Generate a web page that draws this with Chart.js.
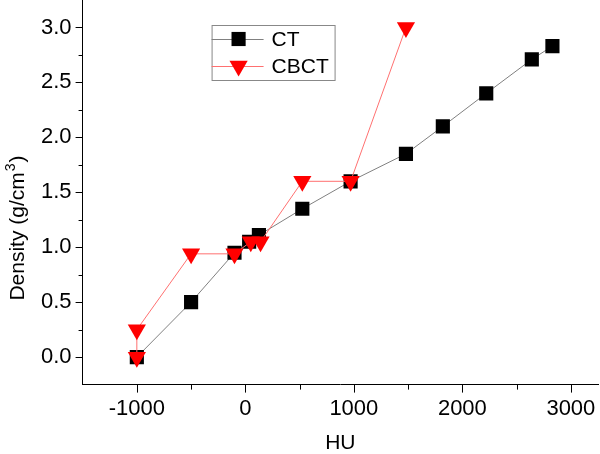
<!DOCTYPE html>
<html>
<head>
<meta charset="utf-8">
<script src="https://cdn.jsdelivr.net/npm/chart.js@4/dist/chart.umd.min.js"></script>
<style>
  html, body { margin: 0; padding: 0; background: #fff; }
  #wrap { width: 600px; height: 454px; }
</style>
</head>
<body>
<div id="wrap"><canvas id="density-chart"></canvas></div>
<script>
// values (HU vs density)
const ctHU = [-1000, -500, -100, 35, 125, 525, 970, 1480, 1820, 2220, 2640, 2830]
const ctDensity = [0, 0.5, 0.95, 1.05, 1.11, 1.35, 1.6, 1.85, 2.1, 2.4, 2.71, 2.83]
const cbctHU = [-1000, -1000, -500, -100, 50, 140, 525, 970, 1480]
const cbctDensity = [0, 0.25, 0.94, 0.94, 1.05, 1.05, 1.6, 1.6, 3.0]

const xTicks = [-1000, 0, 1000, 2000, 3000]
const xMinorTicks = [-500, 500, 1500, 2500]
const yTicks = [0, 0.5, 1, 1.5, 2, 2.5, 3]
const yMinorTicks = [0.25, 0.75, 1.25, 1.75, 2.25, 2.75]

const FONT = '"Liberation Sans", Arial, sans-serif'
const toPoints = (xs, ys) => xs.map((x, i) => ({ x: x, y: ys[i] }))

const ctSet = {
  label: 'CT',
  data: toPoints(ctHU, ctDensity),
  showLine: true,
  borderColor: '#808080',
  borderWidth: 1,
  pointStyle: 'rect',
  pointRadius: 10,
  pointBackgroundColor: '#000',
  pointBorderColor: '#000',
  pointBorderWidth: 0,
  order: 2,
}
const cbctSet = {
  label: 'CBCT',
  data: toPoints(cbctHU, cbctDensity),
  showLine: true,
  borderColor: '#ff7070',
  borderWidth: 1,
  pointStyle: 'triangle',
  pointRotation: 180,
  pointRadius: 10.5,
  pointBackgroundColor: '#ff0000',
  pointBorderColor: '#ff0000',
  pointBorderWidth: 0,
  order: 1,
}

// outward major/minor ticks like the original plot, plus the y title
const tickMarks = {
  id: 'tickMarks',
  afterDraw(chart) {
    const ctx = chart.ctx
    const xs = chart.scales.x
    const ys = chart.scales.y
    const area = chart.chartArea
    ctx.save()
    ctx.strokeStyle = '#000'
    ctx.lineWidth = 1
    ctx.beginPath()
    xTicks.forEach(v => { const p = Math.round(xs.getPixelForValue(v)) + 0.5; ctx.moveTo(p, area.bottom); ctx.lineTo(p, area.bottom + 8) })
    xMinorTicks.forEach(v => { const p = Math.round(xs.getPixelForValue(v)) + 0.5; ctx.moveTo(p, area.bottom); ctx.lineTo(p, area.bottom + 5) })
    yTicks.forEach(v => { const p = Math.round(ys.getPixelForValue(v)) + 0.5; ctx.moveTo(area.left, p); ctx.lineTo(area.left - 7, p) })
    yMinorTicks.forEach(v => { const p = Math.round(ys.getPixelForValue(v)) + 0.5; ctx.moveTo(area.left, p); ctx.lineTo(area.left - 4, p) })
    ctx.stroke()

    // y title with a real superscript, rotated
    ctx.fillStyle = '#000'
    ctx.translate(24, 228)
    ctx.rotate(-Math.PI / 2)
    ctx.textBaseline = 'alphabetic'
    ctx.textAlign = 'left'
    ctx.font = '21px ' + FONT
    const main = 'Density (g/cm'
    const w1 = ctx.measureText(main).width
    const w3 = ctx.measureText(')').width
    ctx.font = '14px ' + FONT
    const w2 = ctx.measureText('3').width
    let x0 = -(w1 + w2 + w3 + 2) / 2
    ctx.font = '21px ' + FONT
    ctx.fillText(main, x0, 0)
    ctx.font = '14px ' + FONT
    ctx.fillText('3', x0 + w1 + 1, -9)
    ctx.font = '21px ' + FONT
    ctx.fillText(')', x0 + w1 + w2 + 2, 0)
    ctx.restore()
  },
}

// legend box with line + marker samples
const boxLegend = {
  id: 'boxLegend',
  afterDraw(chart) {
    const ctx = chart.ctx
    const a = chart.chartArea
    const bx = a.left + 129, by = a.top + 25, bw = 123, bh = 55
    ctx.save()
    ctx.fillStyle = '#fff'
    ctx.fillRect(bx, by, bw, bh)
    ctx.strokeStyle = '#888'
    ctx.lineWidth = 1
    ctx.strokeRect(bx + 0.5, by + 0.5, bw, bh)
    const rows = [[ctSet, by + 14], [cbctSet, by + 41]]
    rows.forEach(([ds, y]) => {
      ctx.strokeStyle = ds.borderColor
      ctx.lineWidth = 1
      ctx.beginPath()
      ctx.moveTo(bx, y + 0.5)
      ctx.lineTo(bx + 52, y + 0.5)
      ctx.stroke()
      ctx.fillStyle = ds.pointBackgroundColor
      ctx.strokeStyle = ds.pointBorderColor
      Chart.helpers.drawPoint(ctx, {
        pointStyle: ds.pointStyle,
        rotation: ds.pointRotation || 0,
        radius: ds.pointRadius,
        borderWidth: 0,
      }, bx + 27, y)
      ctx.fillStyle = '#000'
      ctx.font = '21px ' + FONT
      ctx.textBaseline = 'middle'
      ctx.fillText(ds.label, bx + 60, y + 1)
    })
    ctx.restore()
  },
}

const densityConfig = {
  type: 'scatter',
  data: { datasets: [ctSet, cbctSet] },
  options: {
    responsive: true,
    maintainAspectRatio: false,
    animation: false,
    layout: { autoPadding: false, padding: { left: 30, right: 2, top: 0, bottom: 0 } },
    plugins: {
      legend: { display: false },
      tooltip: { enabled: false },
    },
    scales: {
      x: {
        type: 'linear',
        min: -1500,
        max: 3250,
        afterBuildTicks: scale => { scale.ticks = xTicks.map(v => ({ value: v })) },
        afterFit: scale => { scale.paddingLeft = 0; scale.paddingRight = 0 },
        grid: { display: true, drawOnChartArea: false, drawTicks: false },
        border: { display: true, color: '#000', width: 1 },
        ticks: {
          color: '#000',
          font: { family: FONT, size: 22 },
          padding: 11,
          maxRotation: 0,
          autoSkip: false,
          callback: v => String(v),
        },
        title: {
          display: true,
          text: 'HU',
          color: '#000',
          font: { family: FONT, size: 21, lineHeight: 1 },
          padding: { top: 0, bottom: 0 },
        },
      },
      y: {
        type: 'linear',
        min: -0.25,
        max: 3.25,
        afterBuildTicks: scale => { scale.ticks = yTicks.map(v => ({ value: v })) },
        afterFit: scale => { scale.paddingTop = 0; scale.paddingBottom = 0 },
        grid: { display: true, drawOnChartArea: false, drawTicks: false },
        border: { display: true, color: '#000', width: 1 },
        ticks: {
          color: '#000',
          font: { family: FONT, size: 22 },
          padding: 11,
          autoSkip: false,
          callback: v => Number(v).toFixed(1),
        },
      },
    },
  },
  plugins: [tickMarks, boxLegend],
}

const densityCanvas = document.getElementById('density-chart')
window.densityChart = new Chart(densityCanvas, densityConfig)
</script>
</body>
</html>
